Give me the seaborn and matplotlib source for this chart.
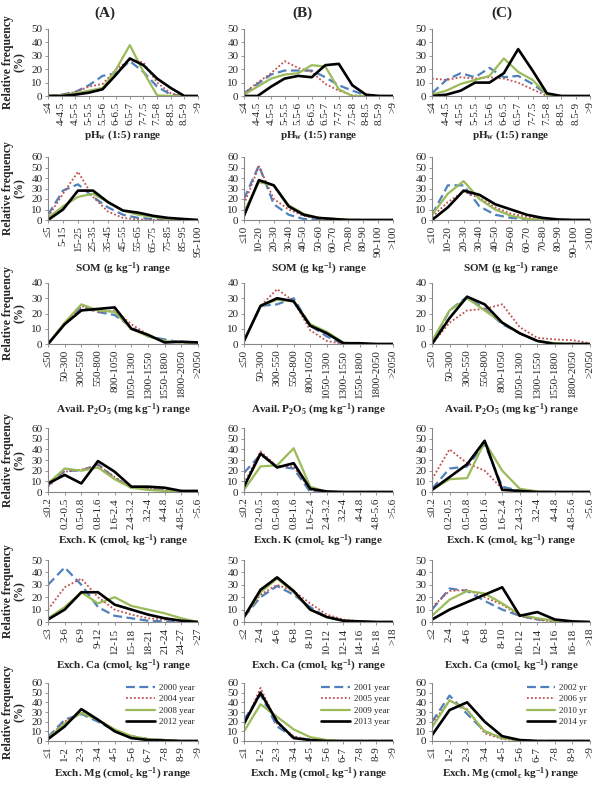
"""Relative frequency distributions of soil properties, three survey periods."""

import matplotlib
matplotlib.use("Agg")
import matplotlib.pyplot as plt
import numpy as np
import seaborn as sns

W, H = 601, 795

YEARS_A = ["2000 year", "2004 year", "2008 year", "2012 year"]
YEARS_B = ["2001 year", "2005 year", "2009 year", "2013 year"]
YEARS_C = ["2002 yr", "2006 yr", "2010 yr", "2014 yr"]

PH_CATS = ["≤4", "4-4.5", "4.5-5", "5-5.5", "5.5-6", "6-6.5", "6.5-7", "7-7.5",
           "7.5-8", "8-8.5", "8.5-9", ">9"]
SOM_CATS_A = ["≤5", "5-15", "15-25", "25-35", "35-45", "45-55", "55-65", "65-75",
              "75-85", "85-95", "95-100"]
SOM_CATS_BC = ["≤10", "10-20", "20-30", "30-40", "40-50", "50-60", "60-70", "70-80",
               "80-90", "90-100", ">100"]
P_CATS = ["≤50", "50-300", "300-550", "550-800", "800-1050", "1050-1300",
          "1300-1550", "1550-1800", "1800-2050", ">2050"]
K_CATS = ["≤0.2", "0.2-0.5", "0.5-0.8", "0.8-1.6", "1.6-2.4", "2.4-3.2", "3.2-4",
          "4-4.8", "4.8-5.6", ">5.6"]
CA_CATS_A = ["≤3", "3-6", "6-9", "9-12", "12-15", "15-18", "18-21", "21-24",
             "24-27", ">27"]
CA_CATS_BC = ["≤2", "2-4", "4-6", "6-8", "8-10", "10-12", "12-14", "14-16",
              "16-18", ">18"]
MG_CATS = ["≤1", "1-2", "2-3", "3-4", "4-5", "5-6", "6-7", "7-8", "8-9", ">9"]

# each panel: [blue dashed, red dotted, green, black] in year order
PH_A = [[0, 1, 3, 8, 15, 17, 26, 18, 7, 1, 0, 0],
        [0, 1, 3, 7, 9, 20, 27, 25, 10, 2, 0, 0],
        [0, 0.5, 2, 4, 6, 20, 38, 18, 0.5, 0, 0, 0],
        [0, 0, 1, 2.5, 5, 16, 28, 23, 13, 6, 0, 0]]
PH_B = [[2, 9, 16, 19, 19, 19, 14, 8, 4, 0.5, 0, 0],
        [2, 10, 17, 26, 21, 18, 9, 4, 0.5, 0, 0, 0],
        [1, 7, 13, 16, 17, 23, 22, 5, 0, 0, 0, 0],
        [0, 0, 7, 13, 15, 14, 23, 24, 8, 1, 0, 0]]
PH_C = [[2, 12, 17, 14, 21, 14, 15, 9, 1, 0, 0, 0],
        [13, 12, 14, 13, 14, 13, 10, 5, 0, 0, 0, 0],
        [1, 4, 9, 12, 15, 28, 18, 12, 1, 0, 0, 0],
        [0, 1, 4, 10, 10, 17, 35, 19, 2, 0, 0, 0]]

SOM_A = [[5, 28, 34, 22, 12, 5, 2, 1, 0, 0, 0],
         [3, 25, 46, 22, 8, 2, 0.5, 0, 0, 0, 0],
         [2, 13, 22, 25, 17, 9, 5, 3, 1, 0, 0],
         [0, 10, 28, 28, 17, 9, 7, 4, 2, 1, 0]]
SOM_B = [[20, 52, 15, 5, 1, 0, 0, 0, 0, 0, 0],
         [15, 51, 20, 10, 4, 1, 0, 0, 0, 0, 0],
         [8, 36, 33, 14, 6, 2, 1, 0.5, 0, 0, 0],
         [4, 38, 33, 13, 5, 2, 1, 0, 0, 0, 0]]
SOM_C = [[5, 33, 33, 13, 5, 2, 1, 0, 0, 0, 0],
         [3, 17, 27, 21, 12, 6, 3, 1, 0, 0, 0],
         [5, 25, 37, 20, 10, 4, 1, 0, 0, 0, 0],
         [0, 12, 28, 24, 15, 10, 5, 2, 0.5, 0, 0]]

P_A = [[0, 13, 24, 21, 19, 11, 5, 3, 1, 0.5],
       [0, 13, 25, 21, 22, 13, 6, 2, 1, 0.5],
       [0, 14, 26, 22, 21, 10, 5, 2, 1, 1],
       [0, 13, 22, 23, 24, 10, 6, 1, 1.5, 1]]
P_B = [[2, 25, 26, 30, 12, 5, 0, 0, 0, 0],
       [2, 25, 36, 28, 9, 2, 0, 0, 0, 0],
       [2, 25, 29, 28, 13, 8, 1, 0, 0, 0],
       [2, 25, 30, 28, 12, 7, 0.5, 0.5, 0, 0]]
P_C = [[0, 22, 31, 23, 13, 7, 2, 0.5, 0, 0],
       [0, 14, 22, 23, 26, 11, 4, 3, 2.5, 0.5],
       [2, 22, 30, 22, 14, 7, 2, 0.5, 0, 0],
       [0, 17, 31, 26, 14, 7, 2, 0, 0, 0]]

K_A = [[6, 20, 20, 26, 13, 4, 3, 2, 0.5, 0],
       [5, 19, 21, 25, 14, 4, 3, 2, 0.5, 0],
       [8, 22, 20, 23, 12, 4, 2, 1, 0.5, 0],
       [8, 16, 8, 29, 19, 5, 5, 4, 1, 1]]
K_B = [[18, 35, 24, 22, 0, 0, 0, 0, 0, 0],
       [8, 38, 24, 24, 2, 0, 0, 0, 0, 0],
       [2, 24, 25, 41, 5, 0, 0, 0, 0, 0],
       [5, 36, 23, 27, 3, 0.5, 0, 0, 0, 0]]
K_C = [[3, 22, 24, 45, 5, 1, 0, 0, 0, 0],
       [12, 40, 27, 20, 3, 0, 0, 0, 0, 0],
       [2, 12, 13, 47, 20, 3, 0.5, 0, 0, 0],
       [2, 14, 26, 48, 2, 1, 0, 0, 0, 0]]

CA_A = [[30, 44, 30, 12, 5, 3, 1, 0.5, 0, 0],
        [10, 28, 35, 20, 10, 6, 3, 2, 1, 0],
        [3, 12, 24, 15, 20, 13, 10, 7, 3, 0],
        [2, 10, 24, 24, 14, 10, 6, 3, 1, 0]]
CA_B = [[4, 20, 29, 22, 12, 4, 1, 0, 0, 0],
        [4, 22, 30, 25, 15, 6, 2, 0.5, 0, 0],
        [4, 24, 35, 24, 10, 4, 1, 0.5, 0, 0],
        [4, 26, 36, 25, 10, 4, 1, 0.5, 0, 0]]
CA_C = [[10, 27, 25, 17, 10, 5, 2, 1, 0, 0],
        [12, 25, 26, 20, 14, 5, 2, 0, 0, 0],
        [5, 18, 25, 23, 15, 6, 3, 1, 0, 0],
        [2, 10, 16, 22, 28, 5, 8, 2, 0.5, 0]]

MG_A = [[4, 22, 28, 20, 11, 5, 2, 1, 0, 0],
        [3, 20, 30, 22, 12, 5, 2, 1, 0, 0],
        [3, 18, 29, 22, 12, 5, 2, 1, 0, 0],
        [2, 15, 33, 22, 10, 3, 1, 0.5, 0, 0]]
MG_B = [[22, 48, 15, 4, 1, 0, 0, 0, 0, 0],
        [16, 55, 18, 5, 1, 0, 0, 0, 0, 0],
        [10, 38, 25, 12, 4, 1, 0, 0, 0, 0],
        [18, 50, 20, 3, 1, 0, 0, 0, 0, 0]]
MG_C = [[20, 47, 28, 10, 3, 1, 0, 0, 0, 0],
        [18, 42, 33, 8, 2, 0.5, 0, 0, 0, 0],
        [14, 42, 32, 10, 3, 1, 0, 0, 0, 0],
        [6, 32, 40, 20, 5, 1, 0, 0, 0, 0]]

sns.set_style("ticks")
plt.rcParams["font.family"] = ["Liberation Serif", "DejaVu Serif"]
plt.rcParams["mathtext.fontset"] = "custom"
plt.rcParams["mathtext.rm"] = "Liberation Serif"
plt.rcParams["mathtext.bf"] = "Liberation Serif:bold"
plt.rcParams["mathtext.it"] = "Liberation Serif:italic"

STYLES = [dict(color="#4F81BD", linestyle=(0, (4, 2)), linewidth=1.6),
          dict(color="#C0504D", linestyle=(0, (1, 1.2)), linewidth=1.3),
          dict(color="#9BBB59", linestyle="-", linewidth=1.6),
          dict(color="black", linestyle="-", linewidth=1.9)]

ROWS = [
    ((PH_CATS, PH_CATS, PH_CATS), (PH_A, PH_B, PH_C), 50,
     r"pH$_\mathbf{w}$ (1:5) range", 29, 96),
    ((SOM_CATS_A, SOM_CATS_BC, SOM_CATS_BC), (SOM_A, SOM_B, SOM_C), 60,
     r"SOM (g kg$^\mathbf{-1}$) range", 157, 220),
    ((P_CATS, P_CATS, P_CATS), (P_A, P_B, P_C), 40,
     r"Avail. P$_\mathbf{2}$O$_\mathbf{5}$ (mg kg$^\mathbf{-1}$) range", 283, 344),
    ((K_CATS, K_CATS, K_CATS), (K_A, K_B, K_C), 60,
     r"Exch. K (cmol$_\mathbf{c}$ kg$^\mathbf{-1}$) range", 428, 492),
    ((CA_CATS_A, CA_CATS_BC, CA_CATS_BC), (CA_A, CA_B, CA_C), 50,
     r"Exch. Ca (cmol$_\mathbf{c}$ kg$^\mathbf{-1}$) range", 560, 622),
    ((MG_CATS, MG_CATS, MG_CATS), (MG_A, MG_B, MG_C), 60,
     r"Exch. Mg (cmol$_\mathbf{c}$ kg$^\mathbf{-1}$) range", 683, 741),
]
COLS = [(48, 198), (244, 393), (432, 590)]
YEARS = [YEARS_A, YEARS_B, YEARS_C]

fig = plt.figure(figsize=(W / 100, H / 100), dpi=100)

for r, (cats_row, data_row, ymax, xlabel, top, bottom) in enumerate(ROWS):
    for c, (x0, x1) in enumerate(COLS):
        ax = fig.add_axes([x0 / W, 1 - bottom / H, (x1 - x0) / W, (bottom - top) / H])
        cats = cats_row[c]
        xs = np.arange(len(cats))
        for k, series in enumerate(data_row[c]):
            sns.lineplot(x=xs, y=series, ax=ax, label=YEARS[c][k], **STYLES[k])
        ax.set_xlim(0, len(cats) - 1)
        ax.set_ylim(0, ymax)
        ax.set_yticks(np.arange(0, ymax + 1, 10))
        ax.set_xticks(xs)
        ax.set_xticklabels(cats, rotation=90)
        ax.tick_params(axis="both", labelsize=8, length=2.5, width=0.6,
                       color="#868686", pad=1.5)
        for s in ("top", "right"):
            ax.spines[s].set_visible(False)
        for s in ("left", "bottom"):
            ax.spines[s].set_color("#868686")
            ax.spines[s].set_linewidth(0.8)
        ax.set_xlabel(xlabel, fontsize=8, fontweight="bold", labelpad=3)
        if c == 0:
            ax.set_ylabel("Relative frequency\n(%)", fontsize=8.5, fontweight="bold",
                          labelpad=4, linespacing=1.0)
        else:
            ax.set_ylabel("")
        if r == len(ROWS) - 1:
            ax.legend(loc="upper right", bbox_to_anchor=(1.02, 1.1), frameon=False,
                      fontsize=6.5, handlelength=3.2, labelspacing=0.35,
                      borderpad=0.2, handletextpad=0.4)
        else:
            ax.get_legend().remove()

for label, xc in zip(["(A)", "(B)", "(C)"], [105, 302, 502]):
    fig.text(xc / W, 1 - 13 / H, label, ha="center", va="center",
             fontsize=11, fontweight="bold")

fig.savefig("out.png", dpi=100)
